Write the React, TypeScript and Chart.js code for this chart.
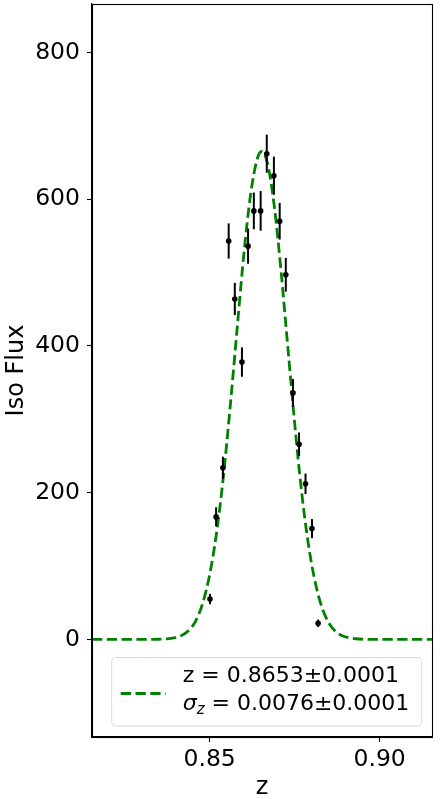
import React, { useEffect, useRef } from "react";
import { Chart, registerables } from "chart.js";

Chart.register(...registerables);

// Observed data points (redshift z, iso flux, 1-sigma error)
const zObs = [0.8501, 0.8519, 0.8539, 0.8556, 0.8574, 0.8595, 0.8613, 0.8630, 0.8650, 0.8668, 0.8689, 0.8706, 0.8724, 0.8745, 0.8763, 0.8782, 0.8801, 0.8819];
const fluxObs = [55, 167, 234, 543, 464, 378, 536, 584, 584, 662, 632, 570, 497, 336, 266, 212, 151, 22];
const fluxErr = [7, 13, 15, 24, 22, 20, 24, 25, 27, 26, 26, 25, 23, 19, 16, 14, 13, 5];

// Fitted curve
const zFit = [0.8154, 0.825, 0.830, 0.835, 0.838, 0.840, 0.842, 0.844, 0.846, 0.848, 0.850, 0.852, 0.854, 0.856, 0.858, 0.860, 0.862, 0.864, 0.8653, 0.867, 0.869, 0.871, 0.873, 0.875, 0.877, 0.879, 0.881, 0.883, 0.885, 0.887, 0.889, 0.891, 0.893, 0.896, 0.900, 0.905, 0.9154];
const fluxFit = [0, 0, 0, 0.2, 1, 2.6, 6, 13, 26, 50, 88, 144, 220, 315, 419, 522, 605, 655, 665, 649, 591, 502, 398, 295, 203, 131, 79, 44, 23, 11, 5, 2.2, 0.9, 0.1, 0, 0, 0];

const yTicks = [0, 200, 400, 600, 800];
const xTicks = [0.85, 0.9];

const legendLine1 = "z = 0.8653±0.0001";
const legendLine2Sym = "σ";
const legendLine2Sub = "z";
const legendLine2Rest = " = 0.0076±0.0001";

const FONT = "'DejaVu Sans', 'Liberation Sans', sans-serif";
const GREEN = "#008000";
const DASH = [10.3, 4.5];
const TICK_SIZE = 23.5;
const TITLE_SIZE = 24;

const framePlugin = {
  id: "frame",
  afterDatasetsDraw(chart: any) {
    const ctx = chart.ctx;
    const xs = chart.scales.x;
    const ys = chart.scales.y;
    ctx.save();
    ctx.strokeStyle = "#000";
    ctx.lineWidth = 2;
    ctx.lineCap = "butt";
    for (let i = 0; i < zObs.length; i++) {
      const px = xs.getPixelForValue(zObs[i]);
      const p1 = ys.getPixelForValue(fluxObs[i] - fluxErr[i]);
      const p2 = ys.getPixelForValue(fluxObs[i] + fluxErr[i]);
      ctx.beginPath();
      ctx.moveTo(px, p1);
      ctx.lineTo(px, p2);
      ctx.stroke();
    }
    ctx.restore();
  },
  afterDraw(chart: any) {
    const ctx = chart.ctx;
    const ca = chart.chartArea;
    ctx.save();
    // frame
    ctx.strokeStyle = "#000";
    ctx.lineWidth = 1.1;
    ctx.strokeRect(Math.round(ca.left) + 0.5, Math.round(ca.top) + 0.5, Math.round(ca.right - ca.left), Math.round(ca.bottom - ca.top));

    // legend
    const x0 = ca.left + 19.7;
    const y0 = ca.bottom - 79.5;
    const w = 310;
    const h = 68.7;
    const r = 4;
    ctx.beginPath();
    ctx.moveTo(x0 + r, y0);
    ctx.lineTo(x0 + w - r, y0);
    ctx.arcTo(x0 + w, y0, x0 + w, y0 + r, r);
    ctx.lineTo(x0 + w, y0 + h - r);
    ctx.arcTo(x0 + w, y0 + h, x0 + w - r, y0 + h, r);
    ctx.lineTo(x0 + r, y0 + h);
    ctx.arcTo(x0, y0 + h, x0, y0 + h - r, r);
    ctx.lineTo(x0, y0 + r);
    ctx.arcTo(x0, y0, x0 + r, y0, r);
    ctx.closePath();
    ctx.fillStyle = "rgba(255,255,255,0.8)";
    ctx.fill();
    ctx.strokeStyle = "#d9d9d9";
    ctx.lineWidth = 1;
    ctx.stroke();

    // sample line
    ctx.beginPath();
    ctx.setLineDash(DASH);
    ctx.strokeStyle = GREEN;
    ctx.lineWidth = 2.8;
    ctx.moveTo(x0 + 9, y0 + 36);
    ctx.lineTo(x0 + 54, y0 + 36);
    ctx.stroke();
    ctx.setLineDash([]);

    // texts
    ctx.fillStyle = "#000";
    ctx.textBaseline = "alphabetic";
    ctx.textAlign = "left";
    const tx = x0 + 71;
    ctx.font = `22px ${FONT}`;
    ctx.fillText(legendLine1, tx, y0 + 24.4);
    ctx.font = `italic 22px ${FONT}`;
    ctx.fillText(legendLine2Sym, tx, y0 + 52.7);
    let cx = tx + ctx.measureText(legendLine2Sym).width;
    ctx.font = `italic 15px ${FONT}`;
    ctx.fillText(legendLine2Sub, cx, y0 + 56);
    cx += ctx.measureText(legendLine2Sub).width;
    ctx.font = `22px ${FONT}`;
    ctx.fillText(legendLine2Rest, cx, y0 + 52.7);
    ctx.restore();
  },
};

export default function App() {
  const ref = useRef<HTMLCanvasElement>(null);
  useEffect(() => {
    const canvas = ref.current;
    if (!canvas) return;
    const chart = new Chart(canvas, {
      type: "scatter",
      data: {
        datasets: [
          {
            label: "data",
            data: zObs.map((z, i) => ({ x: z, y: fluxObs[i] })),
            backgroundColor: "#000",
            borderColor: "#000",
            pointRadius: 2.8,
            pointBorderWidth: 0,
            order: 0,
          },
          {
            type: "line",
            label: "fit",
            data: zFit.map((z, i) => ({ x: z, y: fluxFit[i] })),
            borderColor: GREEN,
            borderWidth: 2.8,
            borderDash: DASH,
            pointRadius: 0,
            cubicInterpolationMode: "monotone",
            fill: false,
            order: 1,
          } as any,
        ],
      },
      options: {
        responsive: false,
        animation: false,
        devicePixelRatio: 1,
        layout: { padding: { left: 0, right: 15, top: 3, bottom: 0 } },
        plugins: { legend: { display: false }, tooltip: { enabled: false } },
        scales: {
          x: {
            type: "linear",
            min: 0.8154,
            max: 0.9154,
            afterBuildTicks: (s: any) => {
              s.ticks = xTicks.map((v) => ({ value: v }));
            },
            afterFit: (s: any) => {
              s.height = 62;
              s.paddingLeft = 0;
              s.paddingRight = 0;
            },
            grid: { drawOnChartArea: false, tickLength: 5, tickColor: "#000", tickWidth: 1.1 },
            border: { color: "#000", width: 1.1 },
            ticks: {
              color: "#000",
              padding: 4,
              font: { family: FONT, size: TICK_SIZE },
              maxRotation: 0,
              callback: (v: any) => Number(v).toFixed(2),
            },
            title: { display: true, text: "z", color: "#000", font: { family: FONT, size: TITLE_SIZE }, padding: { top: -3, bottom: -3 } },
          },
          y: {
            type: "linear",
            min: -133,
            max: 866,
            afterBuildTicks: (s: any) => {
              s.ticks = yTicks.map((v) => ({ value: v }));
            },
            afterFit: (s: any) => {
              s.width = 92;
              s.paddingTop = 0;
              s.paddingBottom = 0;
            },
            grid: { drawOnChartArea: false, tickLength: 5, tickColor: "#000", tickWidth: 1.1 },
            border: { color: "#000", width: 1.1 },
            ticks: {
              color: "#000",
              padding: 7,
              font: { family: FONT, size: TICK_SIZE },
              callback: (v: any) => String(v),
            },
            title: { display: true, text: "Iso Flux", color: "#000", font: { family: FONT, size: TITLE_SIZE }, padding: { top: 2, bottom: 0 } },
          },
        },
      },
      plugins: [framePlugin],
    });
    return () => chart.destroy();
  }, []);
  return (
    <div style={{ position: "fixed", left: 0, top: 0, width: 447, height: 799, background: "#fff" }}>
      <canvas ref={ref} width={447} height={799} style={{ width: 447, height: 799, display: "block" }} />
    </div>
  );
}
